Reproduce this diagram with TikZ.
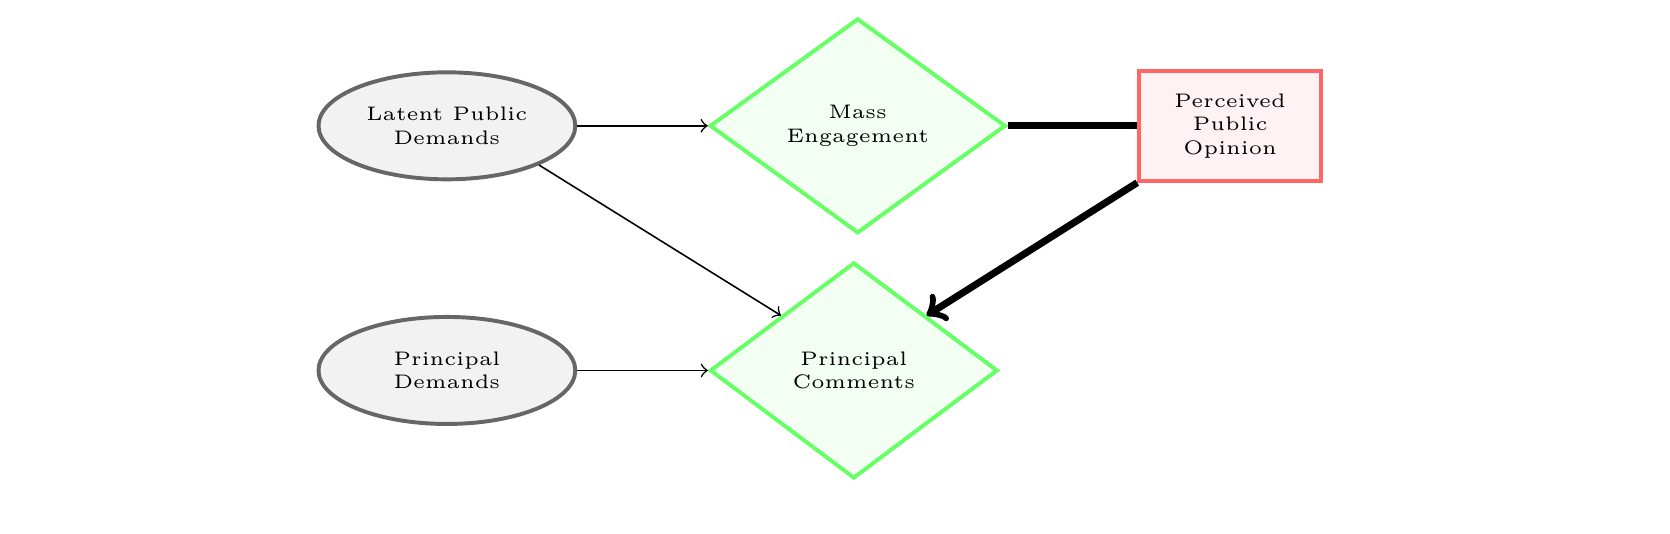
\documentclass[tikz,border=0pt]{standalone}
\usetikzlibrary{shapes.geometric}
\begin{document}
\begin{tikzpicture}[x=1pt,y=1pt,
  latent/.style={ellipse, draw=black!60, fill=black!5, line width=1pt, minimum width=65.5pt, minimum height=27.3pt, align=center, font=\tiny, inner sep=1pt},
  decision/.style={diamond, draw=green!60, fill=green!5, line width=1pt, minimum width=75.5pt, minimum height=54.8pt, align=center, font=\tiny, inner sep=1pt},
  percept/.style={rectangle, draw=red!60, fill=red!5, line width=1pt, minimum width=46.4pt, minimum height=28pt, align=center, font=\tiny, inner sep=1pt},
  thinarrow/.style={->, line width=0.4pt},
  heavy/.style={line width=1.8pt}
]
\useasboundingbox (0,0) rectangle (426,-136);
\node[latent] (lpd) at (114,-32.1) {Latent Public\\Demands};
\node[latent] (pd) at (114,-94.5) {Principal\\Demands};
\node[decision] (me) at (218.8,-32.1) {Mass\\Engagement};
\node[decision, minimum width=73.4pt, minimum height=55.1pt] (pc) at (217.8,-94.5) {Principal\\Comments};
\node[percept] (ppo) at (313.8,-32.1) {Perceived\\Public\\Opinion};
\draw[thinarrow] (lpd) -- (me);
\draw[thinarrow] (lpd.south east) -- (pc.north west);
\draw[thinarrow] (pd) -- (pc);
\draw[heavy] (me) -- (ppo);
\draw[heavy, ->] (ppo.south west) -- (pc.north east);
\end{tikzpicture}
\end{document}
